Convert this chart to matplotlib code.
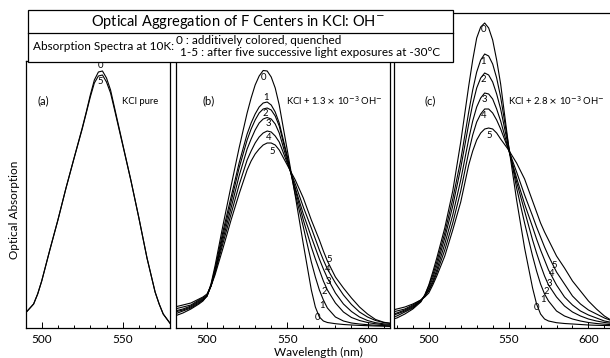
import matplotlib
matplotlib.use('Agg')
import matplotlib.pyplot as plt
from matplotlib.patches import Rectangle
from matplotlib.lines import Line2D
from matplotlib.ticker import MultipleLocator

plt.rcParams['font.family'] = ['Lato', 'DejaVu Sans']

# ---- data (absorption in arbitrary units) ----
# (a) KCl pure
wl_a = [490, 495, 497.5, 500, 505, 510, 515, 520, 525, 527.5, 530, 532.5, 535, 537.5,
        540, 542.5, 545, 550, 555, 560, 565, 570, 572.5, 575, 580]
a0 = [15, 24, 34, 47, 78, 108, 140, 170, 200, 216, 233, 248, 256, 257,
      250, 238, 220, 184, 148, 110, 70, 36, 24, 14, 3]
a5 = [15, 24, 34, 47, 78, 108, 140, 170, 199, 215, 231, 245, 252, 253,
      246, 235, 218, 183, 148, 110, 70, 36, 24, 14, 3]

# (b) KCl + 1.3e-3 OH-
wl_b = [480, 485, 490, 495, 497.5, 500, 502.5, 505, 510, 515, 520, 525, 527.5, 530, 532.5,
        535, 537.5, 540, 542.5, 545, 550, 555, 560, 565, 567.5, 570, 572.5, 575, 580,
        585, 590, 595, 600, 605, 610, 615]
b0 = [12, 15, 19, 24, 27, 32, 44, 62, 103, 142, 180, 215, 230, 243, 252,
      257.5, 257, 251, 240, 223, 178, 132, 84, 38, 21, 11, 7, 5.5, 4.3,
      3.5, 3, 2.6, 2.3, 2, 1.8, 1.5]
b1 = [14, 17, 20, 25, 28, 32, 43, 59, 97, 131, 165, 194, 205, 214, 221,
      225, 226, 223, 216, 205, 172, 134, 101, 66, 51, 38, 28, 20, 11,
      7, 5, 4, 3.3, 2.8, 2.4, 2]
b2 = [16, 18, 21, 26, 28, 32, 42, 57, 93, 126, 160, 188, 199, 208, 215,
      219, 220, 218, 212, 202, 170, 138, 108, 81, 69, 58, 47, 38, 25,
      16, 10.5, 7.5, 5.5, 4.2, 3.3, 2.7]
b3 = [17, 19, 22, 27, 29, 32, 42, 56, 89, 120, 152, 179, 189, 198, 205,
      209, 210.5, 209, 204, 195, 167, 140, 114, 91, 80, 69, 59, 50, 35,
      24, 16.5, 11, 7.5, 5.3, 4.2, 3.5]
b4 = [19, 21, 23, 28, 30, 33, 42, 55, 85, 114, 143, 168, 177, 185, 191,
      195, 197, 196, 192, 186, 165, 144, 121, 100, 89, 78, 68, 59, 45,
      33, 23.5, 16, 11, 7.5, 5.5, 4.5]
b5 = [21, 23, 25, 29, 31, 34, 42, 53, 80, 108, 134, 158, 167, 174, 179,
      183, 185, 185, 183, 178, 163, 148, 130, 108, 98, 88, 77, 67, 51,
      40, 30, 21, 14, 8.5, 5.8, 4.5]

# (c) KCl + 2.8e-3 OH-
wl_c = [475, 480, 485, 490, 495, 497.5, 500, 502.5, 505, 510, 515, 520, 525, 527.5, 530,
        532.5, 535, 537.5, 540, 542.5, 545, 550, 555, 560, 565, 567.5, 570, 572.5, 575,
        580, 585, 590, 595, 600, 605, 610, 615]
c0 = [8, 10, 14, 19, 26, 33, 43, 56, 70, 100, 137, 186, 242, 268, 290,
      301, 305, 300, 288, 268, 244, 182, 128, 80, 40, 24, 14, 9, 7,
      5.3, 4.5, 4, 3.5, 3, 2.7, 2.5, 2.3]
c1 = [10, 12, 16, 20, 27, 33, 42, 53, 66, 95, 129, 168, 216, 238, 256,
      268, 274, 272, 264, 250, 231, 182, 140, 105, 72, 57, 44, 34, 27,
      17, 12, 9, 7, 5.5, 4.5, 3.8, 3.3]
c2 = [12, 14, 17, 21, 27, 32, 40, 50, 62, 90, 122, 160, 204, 224, 240,
      250, 255, 253, 246, 234, 219, 180, 146, 117, 88, 75, 63, 52, 43,
      31, 22, 16, 12, 9, 7, 5.5, 4.5]
c3 = [13, 15, 18, 22, 27, 32, 38, 47, 58, 84, 113, 148, 189, 207, 221,
      230, 235, 234, 229, 219, 207, 178, 150, 124, 101, 89, 78, 68, 58,
      43, 31, 23, 17, 13, 10, 7, 5.5]
c4 = [15, 17, 19, 23, 28, 32, 37, 45, 55, 78, 105, 137, 176, 193, 206,
      214, 219, 219, 215, 208, 199, 178, 156, 133, 112, 101, 91, 81, 72,
      56, 44, 32, 24, 18, 14, 10, 7]
c5 = [17, 19, 21, 24, 28, 31, 35, 43, 52, 72, 98, 126, 163, 177, 188,
      195, 199, 200, 199, 195, 189, 178, 165, 149, 127, 116, 105, 96, 88,
      72, 60, 47, 37, 27, 19, 12, 7]

# curve labels: (text, wavelength, absorption)
labels_a = [('0', 536, 263), ('5', 536, 246)]
labels_b = [('0', 535.5, 251), ('1', 536.8, 231), ('2', 536.4, 215), ('3', 538.3, 204),
            ('4', 538.3, 190), ('5', 540.4, 177),
            ('5', 576.3, 68), ('4', 575.3, 58), ('3', 575.3, 47), ('2', 572.8, 37),
            ('1', 571.7, 22), ('0', 568.7, 11)]
labels_c = [('0', 534.2, 299), ('1', 534.2, 267), ('2', 534.2, 248), ('3', 535, 228),
            ('4', 534.6, 212), ('5', 538.1, 192),
            ('5', 578.5, 63), ('4', 576.8, 54), ('3', 575.3, 45), ('2', 573.6, 36),
            ('1', 571.6, 28), ('0', 567.3, 20)]

W, H = 610, 358


def fx(x):
    return x / W


def fy(y):
    return 1 - y / H


fig = plt.figure(figsize=(W / 100, H / 100), dpi=100)

ax_a = fig.add_axes([fx(26), fy(328), 144 / W, 267 / H])
ax_b = fig.add_axes([fx(176), fy(328), 214 / W, 267 / H])
ax_c = fig.add_axes([fx(394), fy(328), 216 / W, 315 / H])

panels = [
    (ax_a, wl_a, [a0, a5], (490.3, 579.2), 267, labels_a, '(a)', 'KCl pure'),
    (ax_b, wl_b, [b0, b1, b2, b3, b4, b5], (480.7, 614), 267, labels_b, '(b)',
     r'KCl + 1.3 $\times$ 10$^{-3}$ OH$^{-}$'),
    (ax_c, wl_c, [c0, c1, c2, c3, c4, c5], (478.2, 613.5), 315, labels_c, '(c)',
     r'KCl + 2.8 $\times$ 10$^{-3}$ OH$^{-}$'),
]

for ax, wl, curves, xlim, ytop, labels, tag, sample in panels:
    for y in curves:
        ax.plot(wl, y, color='black', lw=0.8)
    for s, x, y in labels:
        ax.text(x, y, s, fontsize=6.8, ha='center', va='center')
    ax.text(501, 227, tag, fontsize=8, ha='center', va='center')
    ax.text(549.5, 227, sample, fontsize=6.8, ha='left', va='center')
    ax.set_xlim(xlim)
    ax.set_ylim(0, ytop)
    ax.set_yticks([])
    ax.xaxis.set_major_locator(MultipleLocator(50))
    ax.xaxis.set_minor_locator(MultipleLocator(10))
    ax.tick_params(axis='x', which='major', direction='in', length=4, width=0.7,
                   labelsize=8.5, pad=4, top=False)
    ax.tick_params(axis='x', which='minor', direction='in', length=2.5, width=0.7, top=False)
    for sp in ax.spines.values():
        sp.set_linewidth(0.9)

ax_c.spines['right'].set_visible(False)

# header box
fig.add_artist(Rectangle((fx(28), fy(62)), 425 / W, 52 / H, transform=fig.transFigure,
                         facecolor='white', edgecolor='black', lw=0.9, zorder=5))
fig.add_artist(Line2D([fx(28), fx(453)], [fy(33), fy(33)], transform=fig.transFigure,
                      color='black', lw=0.9, zorder=6))
fig.text(fx(238), fy(22), r'Optical Aggregation of F Centers in KCl: OH$^{-}$',
         fontsize=10.5, ha='center', va='center', zorder=7)
fig.text(fx(33), fy(47), 'Absorption Spectra at 10K:', fontsize=8.5,
         ha='left', va='center', zorder=7)
fig.text(fx(176), fy(41), '0 : additively colored, quenched', fontsize=8.5,
         ha='left', va='center', zorder=7)
fig.text(fx(180), fy(53), '1-5 : after five successive light exposures at -30\u00b0C',
         fontsize=8.5, ha='left', va='center', zorder=7)

fig.text(fx(15), fy(210), 'Optical Absorption', rotation=90, fontsize=8.5,
         ha='center', va='center')
fig.text(fx(318), fy(352), 'Wavelength (nm)', fontsize=8.5, ha='center', va='center')

fig.savefig('out.png', dpi=100)
